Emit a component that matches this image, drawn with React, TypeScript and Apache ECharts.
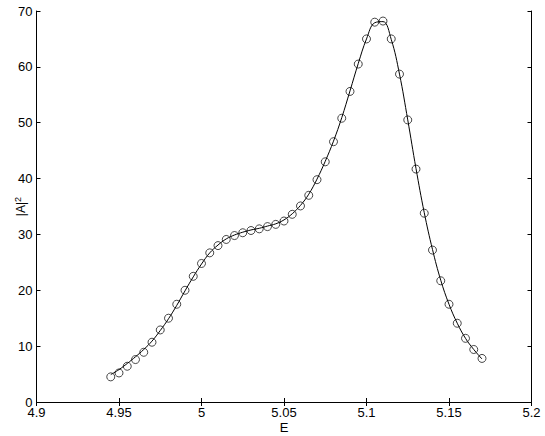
import React, { useEffect, useRef } from "react";
import * as echarts from "echarts";

const energies = [
  4.945, 4.95, 4.955, 4.96, 4.965, 4.97, 4.975, 4.98, 4.985, 4.99, 4.995,
  5.0, 5.005, 5.01, 5.015, 5.02, 5.025, 5.03, 5.035, 5.04, 5.045, 5.05,
  5.055, 5.06, 5.065, 5.07, 5.075, 5.08, 5.085, 5.09, 5.095, 5.1, 5.105,
  5.11, 5.115, 5.12, 5.125, 5.13, 5.135, 5.14, 5.145, 5.15, 5.155, 5.16,
  5.165, 5.17,
];

const measured = [
  4.5, 5.2, 6.4, 7.6, 8.9, 10.7, 12.9, 15.0, 17.5, 20.0, 22.5,
  24.8, 26.7, 28.0, 29.1, 29.8, 30.3, 30.7, 31.0, 31.4, 31.8, 32.4,
  33.6, 35.1, 37.0, 39.8, 43.0, 46.6, 50.8, 55.6, 60.5, 65.0, 68.0,
  68.2, 65.0, 58.7, 50.5, 41.7, 33.8, 27.2, 21.7, 17.5, 14.1, 11.4,
  9.4, 7.8,
];

const fitted = [
  4.9, 5.8, 6.9, 8.1, 9.4, 10.9, 12.8, 14.9, 17.3, 19.9, 22.4,
  24.7, 26.7, 28.1, 29.2, 29.9, 30.4, 30.8, 31.1, 31.5, 31.9, 32.6,
  33.7, 35.2, 37.2, 39.9, 43.1, 46.7, 50.9, 55.7, 60.6, 65.0, 67.9,
  68.1, 64.9, 58.7, 50.5, 41.8, 33.9, 27.3, 21.8, 17.5, 14.1, 11.4,
  9.4, 7.7,
];

const xTicks = ["4.9", "4.95", "5", "5.05", "5.1", "5.15", "5.2"];

export default function App() {
  const ref = useRef<HTMLDivElement>(null);
  useEffect(() => {
    if (!ref.current) return;
    const chart = echarts.init(ref.current, undefined, { renderer: "svg" });
    const font = "Liberation Sans, Arial, Helvetica, sans-serif";
    const lineData = energies.map((e, i) => [e, fitted[i]]);
    const ptData = energies.map((e, i) => [e, measured[i]]);
    const axisLine = { show: true, lineStyle: { color: "#000", width: 1 } };
    const tick = { show: true, inside: true, length: 4, lineStyle: { color: "#000", width: 1 } };
    chart.setOption({
      animation: false,
      backgroundColor: "#fff",
      grid: {
        left: 36.5,
        right: 13.5,
        top: 11,
        bottom: 34,
        containLabel: false,
        outerBoundsMode: "none",
      },
      xAxis: [
        {
          type: "value",
          min: 4.9,
          max: 5.2,
          interval: 0.05,
          axisLine,
          axisTick: tick,
          splitLine: { show: false },
          axisLabel: {
            color: "#000",
            fontFamily: font,
            fontSize: 13,
            margin: 4,
            formatter: (v: number) => {
              const idx = Math.round((v - 4.9) / 0.05);
              return xTicks[idx] ?? "";
            },
          },
          name: "E",
          nameLocation: "middle",
          nameGap: 19,
          nameMoveOverlap: false,
          nameTextStyle: { color: "#000", fontFamily: font, fontSize: 13 },
        },
        {
          type: "value",
          position: "top",
          min: 4.9,
          max: 5.2,
          interval: 0.05,
          axisLine,
          axisTick: tick,
          axisLabel: { show: false },
          splitLine: { show: false },
        },
      ],
      yAxis: [
        {
          type: "value",
          min: 0,
          max: 70,
          interval: 10,
          axisLine,
          axisTick: tick,
          splitLine: { show: false },
          axisLabel: { color: "#000", fontFamily: font, fontSize: 13, margin: 4 },
          name: "{a||A|}{s|2}",
          nameLocation: "middle",
          nameGap: 8,
          nameMoveOverlap: false,
          nameRotate: 90,
          nameTextStyle: {
            color: "#000",
            fontFamily: font,
            fontSize: 12,
            rich: {
              a: { fontFamily: font, fontSize: 12, color: "#000" },
              s: { fontFamily: font, fontSize: 9, color: "#000", verticalAlign: "top", padding: [0, 0, 6, 0] },
            },
          },
        },
        {
          type: "value",
          position: "right",
          min: 0,
          max: 70,
          interval: 10,
          axisLine,
          axisTick: tick,
          axisLabel: { show: false },
          splitLine: { show: false },
        },
      ],
      series: [
        {
          type: "line",
          data: lineData,
          smooth: 0.4,
          symbol: "none",
          lineStyle: { color: "#000", width: 1 },
          z: 2,
        },
        {
          type: "scatter",
          data: ptData,
          symbol: "circle",
          symbolSize: 8,
          itemStyle: { color: "rgba(0,0,0,0)", borderColor: "#000", borderWidth: 0.9 },
          z: 3,
        },
      ],
    });
    return () => chart.dispose();
  }, []);
  return (
    <div
      ref={ref}
      style={{ position: "absolute", left: 0, top: 0, width: 545, height: 436 }}
    />
  );
}
